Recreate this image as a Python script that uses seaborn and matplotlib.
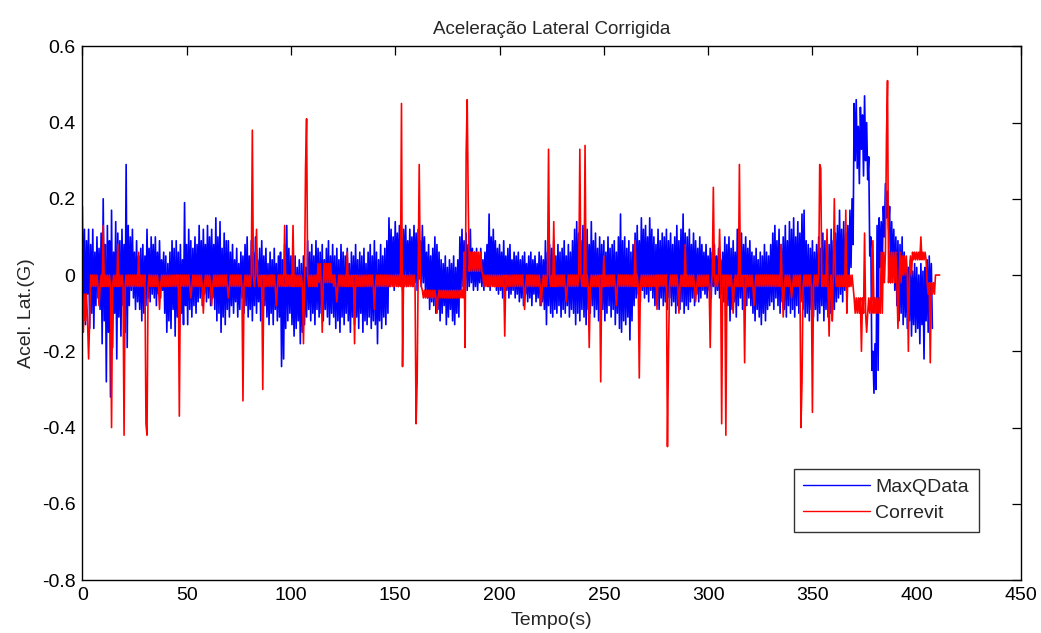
import numpy as np
import pandas as pd
import matplotlib
matplotlib.use("Agg")
import matplotlib.pyplot as plt
import seaborn as sns

# MaxQData lateral acceleration, per-second upper / lower excursion (centi-G), t = 0..407 s
blue_hi = [
    18, 12, 9, 12, 8, 12, 6, 10, 7, 11,
    20, 8, 13, 9, 17, 6, 14, 11, 9, 12,
    8, 29, 13, 10, 12, 6, 9, 5, 7, 8,
    5, 12, 7, 10, 8, 10, 6, 9, 4, 6,
    5, 3, 6, 9, 7, 9, 6, 8, 4, 19,
    8, 12, 9, 7, 10, 8, 13, 9, 12, 8,
    13, 10, 12, 8, 15, 10, 14, 7, 11, 9,
    9, 6, 8, 4, 7, 3, 6, 5, 8, 10,
    5, 9, 6, 10, 4, 7, 9, 5, 7, 3,
    6, 4, 7, 3, 5, 6, 4, 8, 13, 7,
    5, 3, 5, 2, 4, 3, 5, 2, 9, 6,
    8, 5, 9, 7, 6, 8, 4, 7, 9, 5,
    8, 5, 7, 4, 8, 6, 5, 7, 3, 6,
    5, 8, 4, 6, 5, 7, 3, 6, 8, 5,
    9, 6, 4, 8, 5, 7, 9, 15, 12, 10,
    14, 11, 13, 10, 12, 13, 9, 12, 10, 13,
    11, 12, 9, 13, 10, 6, 8, 5, 7, 10,
    8, 6, 4, 3, 5, 2, 4, 3, 5, 2,
    4, 10, 12, 9, 11, 8, 12, 7, 6, 7,
    5, 7, 4, 6, 8, 16, 10, 12, 9, 7,
    8, 6, 9, 5, 7, 8, 4, 6, 5, 6,
    4, 5, 6, 3, 5, 6, 4, 5, 3, 6,
    5, 4, 9, 6, 8, 7, 9, 5, 8, 6,
    7, 9, 5, 8, 6, 9, 12, 14, 11, 9,
    13, 10, 12, 8, 14, 9, 11, 7, 10, 8,
    9, 6, 10, 7, 8, 9, 6, 10, 16, 9,
    10, 7, 9, 6, 8, 11, 13, 9, 15, 12,
    13, 10, 15, 12, 10, 8, 12, 9, 11, 10,
    12, 9, 11, 8, 10, 13, 9, 12, 16, 11,
    10, 12, 8, 11, 9, 7, 10, 8, 6, 8,
    5, 7, 6, 8, 5, 7, 4, 6, 10, 8,
    10, 7, 9, 6, 12, 9, 11, 8, 10, 7,
    9, 6, 5, 7, 4, 6, 5, 8, 6, 5,
    8, 11, 13, 9, 12, 8, 10, 13, 9, 14,
    12, 15, 10, 14, 11, 16, 17, 9, 8, 7,
    9, 6, 8, 10, 7, 11, 9, 6, 8, 12,
    9, 11, 13, 17, 12, 14, 11, 13, 17, 20,
    45, 46, 39, 44, 42, 47, 40, 31, 10, -20,
    -18, 13, 15, 14, 18, 24, 22, 18, 14, 12,
    10, 9, 8, 10, 6, 3, 2, 4, 1, 3,
    2, 0, 3, 1, 2, 4, 5, 3,
]
blue_lo = [
    -12, -13, -5, -14, -10, -14, -8, -6, -9, -18,
    -12, -28, -15, -32, -19, -10, -22, -11, -16, -8,
    -15, -19, -8, -4, -6, -9, -7, -9, -12, -10,
    -8, -6, -7, -5, -6, -8, -5, -6, -4, -10,
    -15, -12, -14, -9, -16, -11, -15, -10, -13, -8,
    -13, -9, -11, -8, -10, -7, -6, -8, -5, -7,
    -6, -8, -6, -9, -12, -10, -15, -11, -13, -9,
    -11, -8, -10, -7, -11, -9, -6, -10, -8, -11,
    -9, -12, -8, -10, -7, -12, -9, -8, -11, -13,
    -10, -13, -9, -12, -11, -24, -22, -14, -12, -10,
    -13, -16, -14, -12, -18, -15, -13, -11, -9, -12,
    -10, -13, -9, -11, -10, -12, -9, -11, -13, -10,
    -11, -14, -12, -15, -11, -13, -10, -12, -15, -11,
    -13, -11, -14, -10, -15, -12, -13, -11, -14, -12,
    -13, -18, -12, -14, -11, -13, -10, -3, -2, -4,
    -1, -3, -2, -4, 0, -3, -2, -1, -3, -2,
    -4, -1, -3, -2, -4, -6, -9, -7, -8, -10,
    -9, -12, -10, -8, -13, -11, -9, -12, -13, -10,
    -11, -4, -3, -2, -4, -3, -2, -4, -3, -4,
    -2, -3, -4, -2, -3, -4, -2, -3, -4, -5,
    -4, -6, -5, -4, -6, -5, -4, -6, -5, -7,
    -6, -8, -5, -7, -6, -8, -5, -7, -6, -8,
    -7, -9, -13, -8, -10, -11, -9, -10, -8, -11,
    -9, -10, -8, -11, -9, -10, -13, -10, -12, -9,
    -11, -13, -9, -10, -8, -11, -9, -12, -10, -9,
    -12, -10, -8, -11, -9, -13, -10, -14, -15, -12,
    -13, -11, -17, -12, -8, -6, -5, -7, -4, -6,
    -5, -7, -4, -6, -8, -7, -9, -6, -8, -7,
    -9, -6, -8, -7, -10, -8, -9, -7, -10, -8,
    -9, -7, -6, -8, -5, -7, -6, -4, -5, -6,
    -4, -6, -3, -5, -4, -6, -5, -7, -10, -8,
    -12, -9, -7, -11, -8, -6, -9, -7, -8, -6,
    -8, -10, -12, -9, -11, -13, -10, -12, -9, -8,
    -7, -9, -6, -8, -10, -7, -9, -11, -8, -10,
    -9, -11, -8, -10, -7, -9, -11, -10, -12, -9,
    -11, -9, -12, -10, -8, -12, -9, -11, -10, -12,
    -9, -7, -6, -5, -7, -4, -6, -3, 2, 8,
    30, 28, 24, 33, 26, 30, 25, 5, -25, -31,
    -30, -25, 2, 3, 10, 15, 12, -2, 1, -4,
    -8, -12, -10, -13, -11, -14, -12, -16, -13, -15,
    -14, -18, -13, -22, -12, -15, -9, -14,
]

# Correvit: level bands (start time in s, upper and lower level in centi-G)
red_seg_t = [0, 4, 113, 120, 163, 183, 192, 370, 384, 393, 398, 405, 409]
red_seg_hi = [-5, 0, 3, 0, -4, 6, 0, -6, 6, 5, 6, -2, 0]
red_seg_lo = [-12, -3, -2, -3, -6, 1, -3, -10, -2, 0, 4, -5, 0]
red_end = 411

# Correvit isolated spikes (time in s, value in centi-G)
red_spike_t = [
    10, 17, 27, 81.5, 83.6, 97, 101, 107.2, 107.7, 127, 153, 161.7,
    184.2, 184.7, 185.2, 223.4, 225.8, 238.7, 241, 250, 265, 289,
    302.5, 305.4, 315, 335, 353.3, 353.8, 357, 360.5, 366, 375, 379,
    383, 385.5, 386, 402,
    0.5, 3, 8, 14, 19.8, 30.5, 31, 37, 46.6, 51.8, 58, 62, 70, 77,
    86.4, 93, 105.8, 114.9, 122, 130.5, 140, 153.5, 160, 160.5, 170,
    183.6, 202.5, 212, 220, 232, 243, 248.3, 256, 267, 275.6, 280.4,
    280.9, 286, 294, 301, 306.3, 308.3, 312, 317.3, 322, 336, 340,
    344.7, 345.2, 349.9, 358, 359.5, 366.5, 373.4, 376, 391, 396, 406.5,
]
red_spike_v = [
    13, 8, 6, 38, 12, 13, 13, 28, 41, 6, 45, 29,
    32, 46, 19, 33, 14, 33, 34, 5, 9, 8,
    23, 12, 29, 8, 29, 28, 12, 20, 17, 11, 9,
    6, 36, 51, 10,
    -15, -22, -8, -40, -42, -39, -42, -9, -37, -6, -10, -8, -6, -33,
    -30, -8, -18, -15, -7, -18, -9, -24, -39, -28, -10,
    -19, -16, -9, -8, -7, -19, -28, -8, -27, -9, -45,
    -20, -10, -7, -19, -39, -42, -10, -23, -8, -11, -6,
    -40, -28, -36, -16, -12, -10, -20, -15, -14, -20, -23,
]

series_names = ["MaxQData", "Correvit"]
series_colors = ["#0000ff", "#ff0000"]

# MaxQData trace: upper then lower excursion inside every second
n_b = min(len(blue_hi), len(blue_lo))
bt = np.column_stack([np.arange(n_b), np.arange(n_b) + 0.5]).ravel().astype(float)
bv = np.column_stack([blue_hi[:n_b], blue_lo[:n_b]]).ravel() / 100.0

# Correvit trace: sampled every 0.5 s, alternating between band levels, plus spikes
rt = np.arange(0, 2 * red_end + 1) / 2.0
seg = np.searchsorted(red_seg_t, rt, side="right") - 1
r_hi = np.asarray(red_seg_hi, dtype=float)[seg]
r_lo = np.asarray(red_seg_lo, dtype=float)[seg]
rv = np.where(np.arange(len(rt)) % 2 == 0, r_hi, r_lo)
for ts, vs in zip(red_spike_t, red_spike_v):
    rv[int(round(ts * 2))] = vs
rv = rv / 100.0

df = pd.concat([
    pd.DataFrame({"Tempo": bt, "Acel": bv, "Sinal": series_names[0]}),
    pd.DataFrame({"Tempo": rt, "Acel": rv, "Sinal": series_names[1]}),
], ignore_index=True)

sns.set_theme(style="white")
plt.rcParams["font.family"] = ["Liberation Sans", "DejaVu Sans"]

fig = plt.figure(figsize=(10.41, 6.33), dpi=100)
ax = fig.add_axes([0.0791, 0.0837, 0.9017, 0.8431])

sns.lineplot(
    data=df, x="Tempo", y="Acel", hue="Sinal",
    hue_order=series_names, palette=dict(zip(series_names, series_colors)),
    estimator=None, sort=False, linewidth=1.2, ax=ax, legend=False,
)

ax.set_xlim(0, 450)
ax.set_ylim(-0.8, 0.6)
ax.set_xticks(np.arange(0, 451, 50))
ax.set_xticklabels([str(v) for v in range(0, 451, 50)])
yt = [-0.8, -0.6, -0.4, -0.2, 0, 0.2, 0.4, 0.6]
ax.set_yticks(yt)
ax.set_yticklabels(["-0.8", "-0.6", "-0.4", "-0.2", "0", "0.2", "0.4", "0.6"])
ax.tick_params(direction="in", length=6.5, width=0.9, top=True, right=True,
               labelsize=14, pad=5, colors="black")
for sp in ax.spines.values():
    sp.set_visible(True)
    sp.set_color("black")
    sp.set_linewidth(1.0)
ax.set_facecolor("white")

ax.set_title("Aceleração Lateral Corrigida", fontsize=13.5, pad=9)
ax.set_xlabel("Tempo(s)", fontsize=14, labelpad=6)
ax.set_ylabel("Acel. Lat.(G)", fontsize=14, labelpad=5)

handles = [plt.Line2D([], [], color=c, lw=1.0) for c in series_colors]
leg = ax.legend(handles, series_names, loc="lower right",
                bbox_to_anchor=(0.955, 0.09), fontsize=14, handlelength=3.4,
                frameon=True, fancybox=False, borderpad=0.5, labelspacing=0.45,
                handletextpad=0.3, borderaxespad=0)
leg.get_frame().set_edgecolor("black")
leg.get_frame().set_linewidth(1.0)

fig.savefig("out.png", dpi=100, facecolor="white")
